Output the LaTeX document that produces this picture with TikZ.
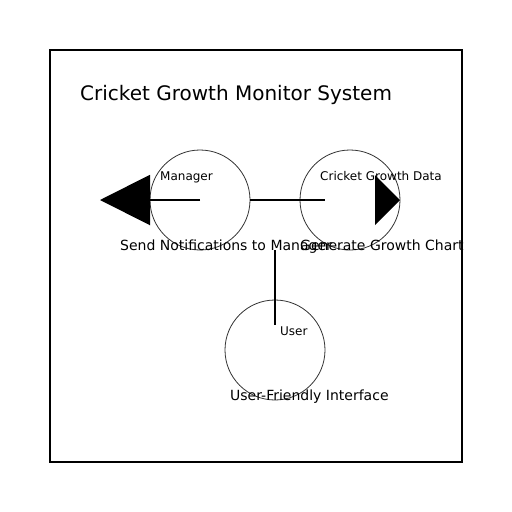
\documentclass[tikz,border=0pt]{standalone}
\usepackage{fontspec}
\setmainfont{DejaVu Sans}
\usetikzlibrary{arrows.meta}
\begin{document}
\begin{tikzpicture}[x=1pt,y=-1pt,
  usecase/.style={draw=black!80,line width=0.8pt,circle,minimum size=100pt,inner sep=0pt},
  conn/.style={draw=black,line width=2pt},
  small/.style={anchor=base west,inner sep=0pt,font=\fontsize{12}{14}\selectfont},
  label/.style={anchor=base west,inner sep=0pt,font=\fontsize{14}{16}\selectfont}]
\useasboundingbox (0,0) rectangle (512,512);
\node[draw=black,line width=2pt,minimum width=412pt,minimum height=412pt,inner sep=0pt] (frame) at (256,256) {};
\node[anchor=base west,inner sep=0pt,font=\fontsize{20}{24}\selectfont] (title) at (80,100) {Cricket Growth Monitor System};
\node[usecase] (mgr) at (200,200) {};
\node[usecase] (gen) at (350,200) {};
\node[usecase] (usr) at (275,350) {};
\coordinate (mgrtip) at (100,200);
\coordinate (genend) at (325,200);
\coordinate (usrend) at (275,325);
\node[small] (mgrlbl) at (160,180) {Manager};
\node[small] (genlbl) at (320,180) {Cricket Growth Data};
\node[small] (usrlbl) at (280,335) {User};
\node[label] (mgrtxt) at (120,250) {Send Notifications to Manager};
\node[label] (gentxt) at (300,250) {Generate Growth Chart};
\node[label] (usrtxt) at (230,400) {User-Friendly Interface};
\draw[conn,-{Triangle[length=50pt,width=50pt]}] (mgr.center) -- (mgrtip);
\draw[conn] (mgr.east) -- (genend);
\fill[black] (375,175) -- (400,200) -- (375,225) -- cycle;
\draw[conn] (mgr.south -| usr.north) -- (usrend);
\end{tikzpicture}
\end{document}
